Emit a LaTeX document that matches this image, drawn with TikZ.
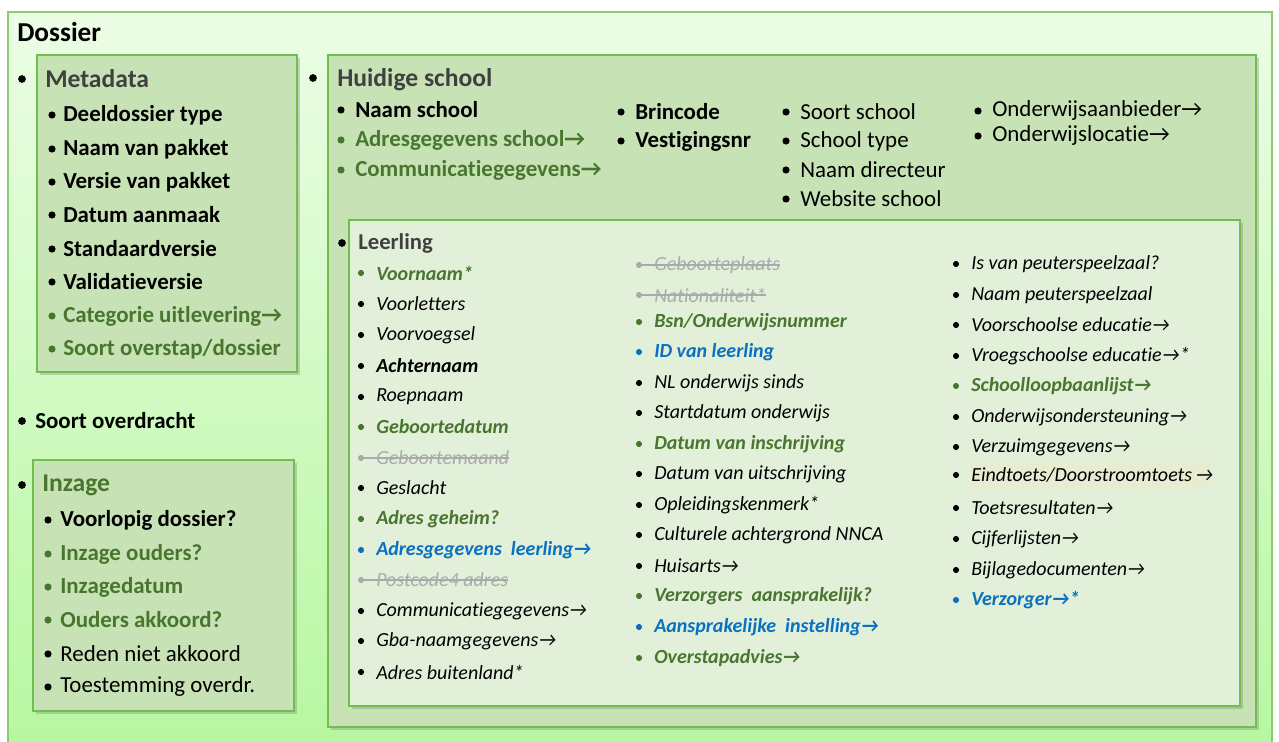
\documentclass[tikz,border=0pt]{standalone}
\usepackage{fontspec}
\setmainfont{Carlito}[Ligatures=NoCommon]
\usetikzlibrary{shadows}
\definecolor{GreenT}{RGB}{72,118,46}
\definecolor{BlueT}{RGB}{10,112,192}
\definecolor{GreyT}{RGB}{170,170,170}
\definecolor{TitleG}{RGB}{64,64,64}
\definecolor{BoxFill}{RGB}{199,227,182}
\definecolor{BoxLine}{RGB}{112,190,76}
\definecolor{InnerFill}{RGB}{226,240,218}
\definecolor{OuterTop}{RGB}{236,253,230}
\definecolor{OuterBot}{RGB}{183,247,160}
\newcommand{\arr}{→}
\begin{document}
\begin{tikzpicture}[x=0.75pt,y=-0.75pt,
  box/.style={draw=BoxLine,line width=1.2pt,fill=BoxFill,
    drop shadow={opacity=0.35,shadow xshift=2pt,shadow yshift=-2pt}},
  head/.style={font=\fontsize{19.2}{23}\selectfont\bfseries,text=TitleG,anchor=west,inner sep=0pt},
  itm/.style={font=\fontsize{17.2}{21}\selectfont,anchor=west,inner sep=0pt},
  lit/.style={font=\fontsize{15}{18}\selectfont\itshape,anchor=west,inner sep=0pt},
  k/.style={color=black},
  kb/.style={color=black,font=\fontsize{17.2}{21}\selectfont\bfseries},
  gb/.style={color=GreenT,font=\fontsize{17.2}{21}\selectfont\bfseries},
  lk/.style={color=black},
  lkb/.style={color=black,font=\fontsize{15}{18}\selectfont\itshape\bfseries},
  lg/.style={color=GreenT,font=\fontsize{15}{18}\selectfont\itshape\bfseries},
  lb/.style={color=BlueT,font=\fontsize{15}{18}\selectfont\itshape\bfseries},
  ls/.style={color=GreyT}]
  \useasboundingbox (0,0) rectangle (1279,742);
  % dossier
  \draw[draw=BoxLine!80,line width=1pt,top color=OuterTop,bottom color=OuterBot] (8,12) rectangle (1272,750);
  \node[head,text=black,font=\fontsize{20.5}{24}\selectfont\bfseries] (dossier) at (17,32) {Dossier};

  % metadata
  \fill (22,79) circle[radius=2.9pt];
  \draw[box] (37,55) rectangle (297,372);
  \node[head] (meta) at (45,79) {Metadata};
  \foreach \y/\s/\t [count=\i] in {115/kb/Deeldossier type,149/kb/Naam van pakket,182/kb/Versie van pakket,
      215/kb/Datum aanmaak,249/kb/Standaardversie,282/kb/Validatieversie,
      316/gb/Categorie uitlevering\arr,349/gb/{Soort overstap/dossier}}{
    \fill[\s] (52,\y) circle[radius=2.7pt];
    \node[itm,\s] (meta\i) at (63,\y) {\t};
  }

  % soort overdracht
  \fill (22,421) circle[radius=2.9pt];
  \node[itm,kb] (overdracht) at (35,421) {Soort overdracht};

  % inzage
  \fill (22,485) circle[radius=2.9pt];
  \draw[box] (33,460) rectangle (294,711);
  \node[head,text=GreenT] (inzage) at (42,485) {Inzage};
  \foreach \y/\s/\t [count=\i] in {520/kb/Voorlopig dossier?,554/gb/Inzage ouders?,587/gb/Inzagedatum,
      620/gb/Ouders akkoord?,654/k/Reden niet akkoord,687/k/Toestemming overdr.}{
    \fill[\s] (48,\y) circle[radius=2.7pt];
    \node[itm,\s] (inz\i) at (60,\y) {\t};
  }

  % huidige school
  \fill (313,78) circle[radius=2.9pt];
  \draw[box] (328,55) rectangle (1256,727);
  \node[head] (school) at (337,80) {Huidige school};
  \foreach \x/\y/\s/\t [count=\i] in {341/110/kb/Naam school,341/140/gb/Adresgegevens school\arr,
      341/170/gb/Communicatiegegevens\arr,621/112/kb/Brincode,621/141/kb/Vestigingsnr,
      786/112/k/Soort school,786/141/k/School type,786/170/k/Naam directeur,786/199/k/Website school,
      978/111/k/Onderwijsaanbieder\arr,978/136/k/Onderwijslocatie\arr}{
    \fill[\s] (\x,\y) circle[radius=2.7pt];
    \node[itm,\s] (sch\i) at (\x+14,\y) {\t};
  }

  % leerling
  \fill (342,243) circle[radius=2.9pt];
  \draw[box,fill=InnerFill] (349,220) rectangle (1240,706);
  \node[head,font=\fontsize{17}{20}\selectfont\bfseries] (leerling) at (358,243) {Leerling};
  \fill[yellow!6!InnerFill] (970,462) rectangle (1212,490);
  \foreach \x/\y/\s/\t [count=\i] in {
      361/273/lg/Voornaam*,361/304/lk/Voorletters,361/335/lk/Voorvoegsel,361/366/lkb/Achternaam,
      361/397/lk/Roepnaam,361/427/lg/Geboortedatum,361/458/ls/Geboortemaand,361/488/lk/Geslacht,
      361/519/lg/Adres geheim?,361/550/lb/Adresgegevens\ \ leerling\arr,361/580/ls/Postcode4 adres,
      361/611/lk/Communicatiegegevens\arr,361/641/lk/Gba-naamgegevens\arr,361/672/lk/Adres buitenland*,
      639/265/ls/Geboorteplaats,639/295/ls/Nationaliteit*,639/322/lg/{Bsn/Onderwijsnummer},
      639/352/lb/ID van leerling,639/383/lk/NL onderwijs sinds,639/413/lk/Startdatum onderwijs,
      639/444/lg/Datum van inschrijving,639/474/lk/Datum van uitschrijving,639/505/lk/Opleidingskenmerk*,
      639/535/lk/Culturele achtergrond NNCA,639/566/lk/Huisarts\arr,639/596/lg/Verzorgers\ \ aansprakelijk?,
      639/627/lb/Aansprakelijke\ \ instelling\arr,639/658/lg/Overstapadvies\arr,
      956/264/lk/Is van peuterspeelzaal?,956/295/lk/Naam peuterspeelzaal,956/325/lk/Voorschoolse educatie\arr,
      956/356/lk/Vroegschoolse educatie\arr*,956/386/lg/Schoolloopbaanlijst\arr,
      956/417/lk/Onderwijsondersteuning\arr,956/447/lk/Verzuimgegevens\arr,
      956/475/lk/{Eindtoets/Doorstroomtoets\,\arr},956/508/lk/Toetsresultaten\arr,956/539/lk/Cijferlijsten\arr,
      956/570/lk/Bijlagedocumenten\arr,956/600/lb/Verzorger\arr*}{
    \fill[\s] (\x,\y) circle[radius=2.3pt];
    \node[lit,\s] (ll\i) at (\x+15,\y) {\t};
  }
  % doorgehaald
  \foreach \i in {7,11,15,16}{
    \draw[GreyT,line width=0.8pt] ([xshift=-11.5pt]ll\i.west) -- (ll\i.east);
  }
\end{tikzpicture}
\end{document}
